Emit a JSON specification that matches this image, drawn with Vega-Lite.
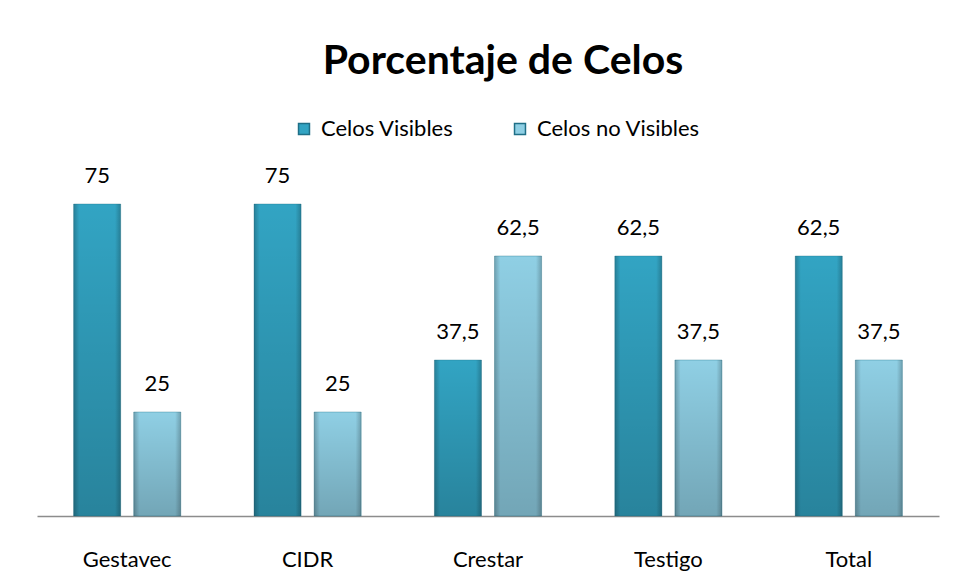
{
  "$schema": "https://vega.github.io/schema/vega-lite/v6.json",
  "autosize": "none",
  "width": 902,
  "height": 416,
  "padding": {"left": 37, "top": 100, "right": 22, "bottom": 65},
  "background": "white",
  "config": {
    "locale": {"number": {"decimal": ",", "thousands": ".", "grouping": [3], "currency": ["", " €"]}},
    "view": {"stroke": null},
    "font": "Lato"
  },
  "title": {
    "text": "Porcentaje de Celos",
    "font": "Lato",
    "fontSize": 41,
    "fontWeight": "bold",
    "color": "#000000",
    "anchor": "middle",
    "offset": 17,
    "dx": 15
  },
  "data": {
    "values": [
      {"grupo": "Gestavec", "serie": "Celos Visibles", "valor": 75},
      {"grupo": "Gestavec", "serie": "Celos no Visibles", "valor": 25},
      {"grupo": "CIDR", "serie": "Celos Visibles", "valor": 75},
      {"grupo": "CIDR", "serie": "Celos no Visibles", "valor": 25},
      {"grupo": "Crestar", "serie": "Celos Visibles", "valor": 37.5},
      {"grupo": "Crestar", "serie": "Celos no Visibles", "valor": 62.5},
      {"grupo": "Testigo", "serie": "Celos Visibles", "valor": 62.5},
      {"grupo": "Testigo", "serie": "Celos no Visibles", "valor": 37.5},
      {"grupo": "Total", "serie": "Celos Visibles", "valor": 62.5},
      {"grupo": "Total", "serie": "Celos no Visibles", "valor": 37.5}
    ]
  },
  "encoding": {
    "x": {
      "field": "grupo", "type": "nominal", "sort": null, "title": null,
      "scale": {"paddingInner": 0.406, "paddingOuter": 0.203},
      "axis": {"labelAngle": 0, "ticks": false, "labelPadding": 33, "labelFontSize": 22, "labelColor": "#000000", "labelFont": "Lato", "domainColor": "#8c8c8c", "domainWidth": 1.5, "grid": false}
    },
    "xOffset": {"field": "serie", "type": "nominal", "sort": ["Celos Visibles", "Celos no Visibles"], "scale": {"paddingInner": 0.217}},
    "y": {"field": "valor", "type": "quantitative", "scale": {"domain": [0, 100]}, "axis": null}
  },
  "layer": [
    {
      "mark": {"type": "bar", "stroke": "#1f6f87", "strokeWidth": 0.6, "strokeOpacity": 0.6},
      "encoding": {
        "color": {
          "field": "serie", "type": "nominal", "sort": ["Celos Visibles", "Celos no Visibles"],
          "scale": {"domain": ["Celos Visibles", "Celos no Visibles"], "range": ["#32a4c3", "#8fcfe4"]},
          "legend": {
            "title": null, "orient": "none", "direction": "horizontal",
            "legendX": 256, "legendY": 18, "symbolType": "square", "symbolSize": 120,
            "labelFontSize": 22, "labelFont": "Lato", "labelColor": "#000000", "labelLimit": 400,
            "columnPadding": 55, "labelOffset": 6
          }
        }
      }
    },
    {
      "mark": {
        "type": "bar",
        "fill": {"gradient": "linear", "x1": 0, "y1": 0, "x2": 0, "y2": 1, "stops": [{"offset": 0, "color": "rgba(0,0,0,0)"}, {"offset": 1, "color": "rgba(0,0,0,0.2)"}]}
      },
      "encoding": {}
    },
    {
      "mark": {
        "type": "bar",
        "fill": {"gradient": "linear", "x1": 0, "y1": 0, "x2": 1, "y2": 0, "stops": [{"offset": 0, "color": "rgba(0,0,0,0.22)"}, {"offset": 0.12, "color": "rgba(0,0,0,0)"}, {"offset": 0.88, "color": "rgba(0,0,0,0)"}, {"offset": 1, "color": "rgba(0,0,0,0.22)"}]}
      },
      "encoding": {}
    },
    {
      "mark": {"type": "text", "baseline": "bottom", "dy": -16, "fontSize": 22, "font": "Lato", "color": "#000000"},
      "encoding": {"text": {"field": "valor", "type": "quantitative", "format": ".1~f"}}
    }
  ]
}
